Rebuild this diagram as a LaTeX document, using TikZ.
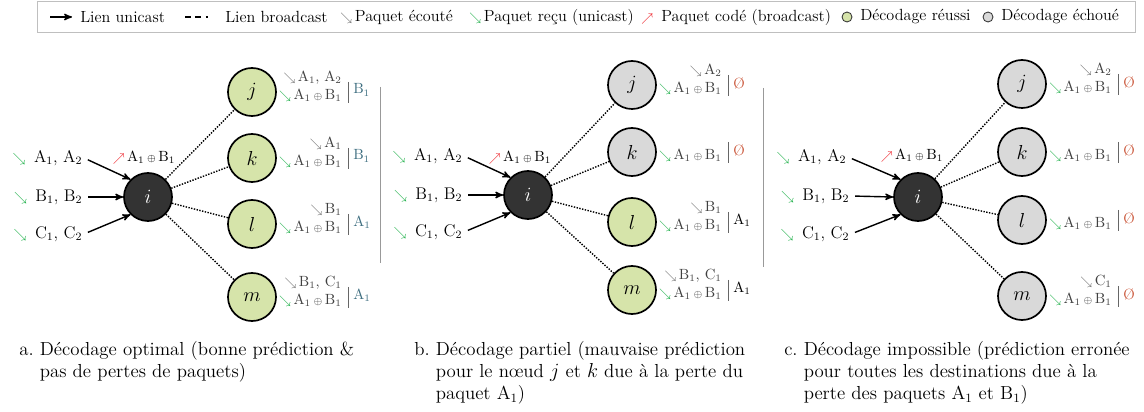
\documentclass[tikz,border=0pt]{standalone}
\usepackage{amsmath}
\usepackage{tikz}
\usetikzlibrary{arrows,positioning}

\definecolor{recv}{RGB}{34,177,76}
\definecolor{heard}{RGB}{110,110,110}
\definecolor{coded}{RGB}{237,28,36}
\definecolor{okfill}{RGB}{214,228,170}
\definecolor{kofill}{RGB}{217,217,217}
\definecolor{relaygray}{RGB}{51,51,51}
\definecolor{gotit}{RGB}{62,110,128}
\definecolor{lost}{RGB}{200,80,50}

\newcommand{\hrd}{{\color{heard}\footnotesize$\searrow$}}
\newcommand{\rcv}{{\color{recv}\footnotesize$\searrow$}}
\newcommand{\rcvbig}{{\color{recv}\small$\searrow$}}
\newcommand{\cod}{{\color{coded}\footnotesize$\nearrow$}}
\newcommand{\AxB}{A$_1\,{\scriptstyle\oplus}\,$B$_1$}

\tikzset{
  dnode/.style={circle, draw=black, line width=1.2pt, minimum size=1.2cm, inner sep=0pt, font=\fontsize{15}{18}\selectfont},
  relay/.style={dnode, fill=relaygray, text=white},
  okstate/.style={fill=okfill},
  kostate/.style={fill=kofill},
  inlbl/.style={anchor=east, inner sep=1pt, font=\fontsize{12}{14}\selectfont},
  codlbl/.style={inner sep=0pt, font=\fontsize{10.5}{12}\selectfont},
  dlbl/.style={anchor=east, align=right, inner sep=0pt, font=\fontsize{10.5}{12.8}\selectfont, text=black!75},
  resval/.style={anchor=west, inner sep=0pt, font=\fontsize{10.5}{12}\selectfont},
  ucast/.style={->, >=stealth', line width=1pt, shorten <=3pt},
  bcast/.style={line width=1pt, dash pattern=on 1pt off 1pt},
  vbar/.style={draw=black!60, line width=0.6pt},
  divider/.style={draw=black!40, line width=0.7pt},
  lgtxt/.style={anchor=west, inner sep=0pt, font=\fontsize{11.5}{13}\selectfont},
  captxt/.style={anchor=north west, align=left, inner sep=0pt, font=\fontsize{13.4}{15.6}\selectfont},
}

% destination node, its packets and what it decodes
\newcommand{\dest}[6]{%
  \node[dnode,#4] (#1) at (#3) {$#2$};
  \node[dlbl] (#1lbl) at ([shift={(90,-5)}]#1.center) {\strut#5\\\strut\rcv\,\AxB};
  \draw[vbar] ([shift={(6,-5)}]#1lbl.east) -- ([shift={(6,16)}]#1lbl.east);
  \node[resval] (#1res) at ([shift={(11,3)}]#1lbl.east) {#6};
}

\begin{document}
\begin{tikzpicture}[x=0.025cm, y=-0.025cm]
	\useasboundingbox (0,0) rectangle (1144,412);

	% legend
	\draw[draw=black!25, line width=0.6pt, fill=white] (37,1) rectangle (1135,32);
	\draw[->, >=stealth', line width=1pt] (50,17) -- (72,17);
	\node[lgtxt] (lguni) at (80,17) {Lien unicast};
	\draw[line width=1pt, dash pattern=on 4.3pt off 2.8pt on 4.3pt off 3.5pt on 1.4pt off 20pt] (185,17) -- (209,17);
	\node[lgtxt] (lgbro) at (225,17) {Lien broadcast};
	\node[lgtxt] (lgheard) at (340,17) {\hrd\,Paquet écouté};
	\node[lgtxt] (lgrecv) at (469,17) {\rcv\,Paquet reçu (unicast)};
	\node[lgtxt] (lgcoded) at (641,17) {\cod\enspace Paquet codé (broadcast)};
	\node[circle, draw=black!80, line width=0.6pt, fill=okfill, minimum size=0.25cm, inner sep=0pt] (lgok) at (847,17) {};
	\node[lgtxt] (lgoktxt) at (860,17) {Décodage réussi};
	\node[circle, draw=black!80, line width=0.6pt, fill=kofill, minimum size=0.25cm, inner sep=0pt] (lgko) at (988,17) {};
	\node[lgtxt] (lgkotxt) at (1001,17) {Décodage échoué};

	% a. optimal decoding
	\node[relay] (ai) at (148,197) {$i$};
	\node[inlbl] (ainA) at (84,158) {\rcvbig\enspace A$_1$, A$_2$};
	\node[inlbl] (ainB) at (84,197) {\rcvbig\enspace B$_1$, B$_2$};
	\node[inlbl] (ainC) at (84,234) {\rcvbig\enspace C$_1$, C$_2$};
	\draw[ucast] (ainA.east) -- (ai.135);
	\draw[ucast] (ainB.east) -- (ai.west);
	\draw[ucast] (ainC.east) -- (ai.225);
	\node[codlbl] (acod) at (144,157) {\cod\,\AxB};
	\dest{aj}{j}{252,92}{okstate}{\hrd\,A$_1$, A$_2$}{\color{gotit}B$_1$}
	\dest{ak}{k}{252,158}{okstate}{\hrd\,A$_1$}{\color{gotit}B$_1$}
	\dest{al}{l}{252,224}{okstate}{\hrd\,B$_1$}{\color{gotit}A$_1$}
	\dest{am}{m}{252,297}{okstate}{\hrd\,B$_1$, C$_1$}{\color{gotit}A$_1$}
	\foreach \d in {aj,ak,al,am}
		\draw[bcast] (ai) -- (\d);

	\draw[divider] (380,87) -- (380,263);

	% b. partial decoding
	\node[relay] (bi) at (528,195) {$i$};
	\node[inlbl] (binA) at (464,156) {\rcvbig\enspace A$_1$, A$_2$};
	\node[inlbl] (binB) at (464,195) {\rcvbig\enspace B$_1$, B$_2$};
	\node[inlbl] (binC) at (464,232) {\rcvbig\enspace C$_1$, C$_2$};
	\draw[ucast] (binA.east) -- (bi.135);
	\draw[ucast] (binB.east) -- (bi.west);
	\draw[ucast] (binC.east) -- (bi.225);
	\node[codlbl] (bcod) at (520,157) {\cod\,\AxB};
	\dest{bj}{j}{632,85}{kostate}{\hrd\,A$_2$}{\color{lost}\O}
	\dest{bk}{k}{632,152}{kostate}{}{\color{lost}\O}
	\dest{bl}{l}{632,222}{okstate}{\hrd\,B$_1$}{A$_1$}
	\dest{bm}{m}{632,290}{okstate}{\hrd\,B$_1$, C$_1$}{A$_1$}
	\foreach \d in {bj,bk,bl,bm}
		\draw[bcast] (bi) -- (\d);

	\draw[divider] (763,88) -- (763,267);

	% c. impossible decoding
	\node[relay] (ci) at (918,197) {$i$};
	\node[inlbl] (cinA) at (848,157) {\rcvbig\enspace A$_1$, A$_2$};
	\node[inlbl] (cinB) at (851,196) {\rcvbig\enspace B$_1$, B$_2$};
	\node[inlbl] (cinC) at (851,234) {\rcvbig\enspace C$_1$, C$_2$};
	\draw[ucast] (cinA.east) -- (ci.135);
	\draw[ucast] (cinB.east) -- (ci.west);
	\draw[ucast] (cinC.east) -- (ci.225);
	\node[codlbl] (ccod) at (912,155) {\cod\,\AxB};
	\dest{cj}{j}{1022,84}{kostate}{\hrd\,A$_2$}{\color{lost}\O}
	\dest{ck}{k}{1022,152}{kostate}{}{\color{lost}\O}
	\dest{cl}{l}{1022,220}{kostate}{}{\color{lost}\O}
	\dest{cm}{m}{1022,296}{kostate}{\hrd\,C$_1$}{\color{lost}\O}
	\foreach \d in {cj,ck,cl,cm}
		\draw[bcast] (ci) -- (\d);

	% captions
	\node[captxt] (capa) at (19,341) {a.~Décodage optimal (bonne prédiction \&\\\phantom{a.~}pas de pertes de paquets)};
	\node[captxt] (capb) at (414,341) {b.~Décodage partiel (mauvaise prédiction\\\phantom{b.~}pour le n\oe ud $j$ et $k$ due à la perte du\\\phantom{b.~}paquet A$_1$)};
	\node[captxt] (capc) at (784,341) {c.~Décodage impossible (prédiction erronée\\\phantom{c.~}pour toutes les destinations due à la\\\phantom{c.~}perte des paquets A$_1$ et B$_1$)};
\end{tikzpicture}
\end{document}
